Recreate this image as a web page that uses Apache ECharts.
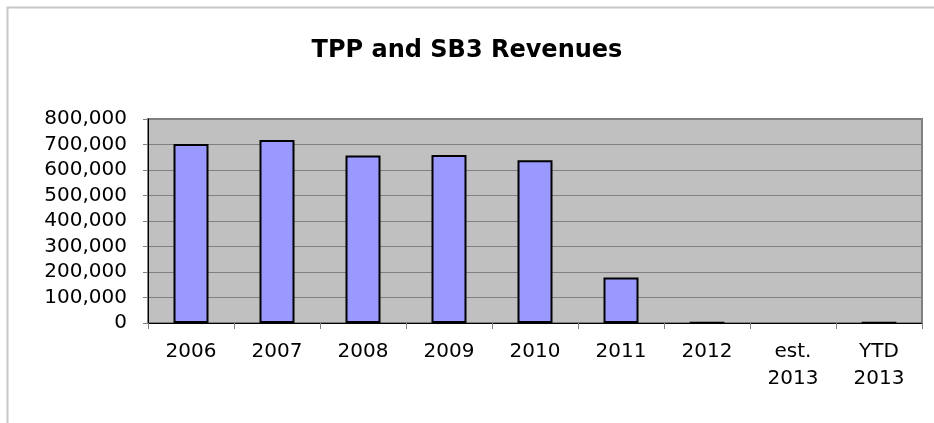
<!DOCTYPE html>
<html>
<head>
<meta charset="utf-8">
<script src="https://cdn.jsdelivr.net/npm/echarts@6/dist/echarts.min.js"></script>
<style>
html,body{margin:0;padding:0;background:#fff;}
#chart{width:934px;height:423px;}
</style>
</head>
<body>
<div id="chart"></div>
<script>
const titleText = 'TPP and SB3 Revenues';
const categories = ['2006', '2007', '2008', '2009', '2010', '2011', '2012', 'est.\n2013', 'YTD\n2013'];
const revenues = [702000, 718000, 657000, 659000, 638000, 178000, 1000, null, 1000];
const yMin = 0, yMax = 800000, yStep = 100000;

const FONT = '"DejaVu Sans", "Liberation Sans", Arial, sans-serif';
const chart = echarts.init(document.getElementById('chart'), null, {renderer: 'canvas'});
chart.setOption({
  animation: false,
  backgroundColor: '#ffffff',
  graphic: [{
    type: 'polyline',
    shape: {points: [[7.5, 430], [7.5, 7.5], [940, 7.5]]},
    style: {stroke: '#c8c8c8', lineWidth: 2, fill: null},
    silent: true
  }],
  title: {
    text: titleText,
    left: 'center',
    top: 34,
    textStyle: {fontFamily: FONT, fontSize: 24, fontWeight: 'bold', color: '#000'}
  },
  grid: {
    left: 148, right: 12, top: 119, bottom: 100,
    show: true,
    backgroundColor: '#c0c0c0',
    borderColor: '#808080',
    borderWidth: 2
  },
  xAxis: {
    type: 'category',
    data: categories,
    axisLine: {lineStyle: {color: '#000', width: 1}},
    axisTick: {show: true, length: 6, lineStyle: {color: '#808080'}},
    axisLabel: {
      fontFamily: FONT, fontSize: 20, color: '#000',
      margin: 15, lineHeight: 27, interval: 0
    }
  },
  yAxis: {
    type: 'value',
    min: yMin, max: yMax, interval: yStep,
    axisLine: {show: true, lineStyle: {color: '#000', width: 1}},
    axisTick: {show: true, length: 5, lineStyle: {color: '#808080'}},
    splitLine: {lineStyle: {color: '#808080', width: 1}},
    axisLabel: {
      fontFamily: FONT, fontSize: 20, color: '#000',
      margin: 21, padding: [5, 0, 0, 0],
      formatter: v => v.toLocaleString('en-US')
    }
  },
  series: [{
    type: 'bar',
    data: revenues,
    barWidth: 35,
    itemStyle: {color: '#9999ff', borderColor: '#000', borderWidth: 2}
  }]
});
</script>
</body>
</html>
